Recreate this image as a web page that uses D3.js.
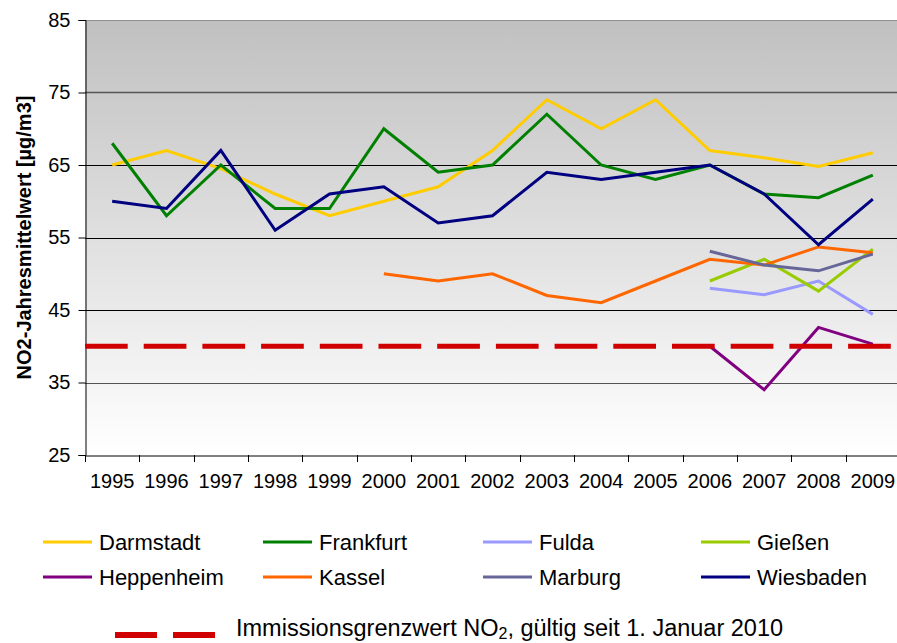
<!DOCTYPE html>
<html>
<head>
<meta charset="utf-8">
<script src="https://cdn.jsdelivr.net/npm/d3@7"></script>
<style>
  body { margin: 0; background: #fff; }
  svg text { font-family: Arial, "Liberation Sans", sans-serif; fill: #000; }
</style>
</head>
<body>
<svg id="chart" width="897" height="643"></svg>
<script>
// data
const years = ["1995", "1996", "1997", "1998", "1999", "2000", "2001", "2002",
               "2003", "2004", "2005", "2006", "2007", "2008", "2009"];
const darmstadt  = [65, 67, 64.5, 61, 58, 60, 62, 67, 74, 70, 74, 67, 66, 64.8, 66.7];
const frankfurt  = [68, 58, 65, 59, 59, 70, 64, 65, 72, 65, 63, 65, 61, 60.5, 63.6];
const fulda      = [null, null, null, null, null, null, null, null, null, null, null, 48, 47.1, 49, 44.4];
const giessen    = [null, null, null, null, null, null, null, null, null, null, null, 49, 52, 47.6, 53.4];
const heppenheim = [null, null, null, null, null, null, null, null, null, null, null, 40, 34, 42.6, 40.3];
const kassel     = [null, null, null, null, null, 50, 49, 50, 47, 46, 49, 52, 51.2, 53.7, 52.9];
const marburg    = [null, null, null, null, null, null, null, null, null, null, null, 53.1, 51.2, 50.4, 52.7];
const wiesbaden  = [60, 59, 67, 56, 61, 62, 57, 58, 64, 63, 64, 65, 61, 54, 60.3];
const yTicks = [25, 35, 45, 55, 65, 75, 85];
const limitValue = 40;

const series = [
  { name: "Darmstadt",  values: darmstadt,  color: "#FFCC00" },
  { name: "Frankfurt",  values: frankfurt,  color: "#008000" },
  { name: "Fulda",      values: fulda,      color: "#9999FF" },
  { name: "Gießen",     values: giessen,    color: "#99CC00" },
  { name: "Heppenheim", values: heppenheim, color: "#800080" },
  { name: "Kassel",     values: kassel,     color: "#FF6600" },
  { name: "Marburg",    values: marburg,    color: "#666699" },
  { name: "Wiesbaden",  values: wiesbaden,  color: "#000080" }
];

const svg = d3.select("#chart");
const mLeft = 85, mRight = 900, mTop = 20, mBottom = 455;

const x = d3.scaleBand().domain(years).range([mLeft, mRight]).padding(0);
const y = d3.scaleLinear().domain([25, 85]).range([mBottom, mTop]);

// plot background gradient
const grad = svg.append("defs").append("linearGradient")
    .attr("id", "bg").attr("x1", 0).attr("y1", 0).attr("x2", 0).attr("y2", 1);
grad.append("stop").attr("offset", "0%").attr("stop-color", "#c0c0c0");
grad.append("stop").attr("offset", "100%").attr("stop-color", "#ffffff");

svg.append("rect")
    .attr("x", mLeft).attr("y", mTop)
    .attr("width", mRight - mLeft).attr("height", mBottom - mTop)
    .attr("fill", "url(#bg)");

// gridlines
svg.append("g").selectAll("line")
    .data(yTicks.filter(d => d > 25))
    .join("line")
    .attr("x1", mLeft).attr("x2", mRight)
    .attr("y1", d => Math.round(y(d)) + 0.5).attr("y2", d => Math.round(y(d)) + 0.5)
    .attr("stroke", d => d == 85 ? "#909090" : (d == 75 || d == 35) ? "#555" : "#000")
    .attr("stroke-width", d => d == 75 ? 1.5 : 1);

// axes
const yAxis = d3.axisLeft(y).tickValues(yTicks).tickSize(7).tickPadding(8);
const gy = svg.append("g").attr("transform", "translate(" + (mLeft + 0.5) + ",0)").call(yAxis);
gy.select(".domain").attr("stroke", "#000");
gy.selectAll(".tick line").attr("stroke", "#000");
gy.selectAll("text").style("font-size", "20px").attr("fill", "#000");

const xAxis = d3.axisBottom(x).tickSize(0).tickPadding(18);
const gx = svg.append("g").attr("transform", "translate(0," + (mBottom + 0.5) + ")").call(xAxis);
gx.select(".domain").attr("stroke", "#000");
gx.selectAll("text").style("font-size", "20px").attr("fill", "#000");

// ticks between categories
svg.append("g").selectAll("line")
    .data(years)
    .join("line")
    .attr("x1", d => Math.round(x(d)) + 0.5).attr("x2", d => Math.round(x(d)) + 0.5)
    .attr("y1", mBottom).attr("y2", mBottom + 7)
    .attr("stroke", "#000");

// y title
svg.append("text")
    .attr("transform", "translate(31," + ((mTop + mBottom) / 2) + ") rotate(-90)")
    .attr("text-anchor", "middle")
    .style("font-size", "20px")
    .style("font-weight", "bold")
    .text("NO2-Jahresmittelwert [µg/m3]");

// lines
const line = d3.line()
    .defined(d => d != null)
    .x((d, i) => x(years[i]) + x.bandwidth() / 2)
    .y(d => y(d));

svg.append("g").selectAll("path")
    .data(series)
    .join("path")
    .attr("d", d => line(d.values))
    .attr("fill", "none")
    .attr("stroke", d => d.color)
    .attr("stroke-width", 3)
    .attr("stroke-linejoin", "miter");

// limit value
svg.append("line")
    .attr("x1", mLeft).attr("x2", mRight)
    .attr("y1", y(limitValue)).attr("y2", y(limitValue))
    .attr("stroke", "#D00000")
    .attr("stroke-width", 5)
    .attr("stroke-dasharray", "42.7,16");

// legend
const legend = svg.append("g");
const colX = [43, 263, 483, 701];
const rowY = [542, 577];
series.forEach(function (s, i) {
    const cx = colX[i % 4], cy = rowY[Math.floor(i / 4)];
    legend.append("line")
        .attr("x1", cx).attr("x2", cx + 49)
        .attr("y1", cy).attr("y2", cy)
        .attr("stroke", s.color).attr("stroke-width", 3);
    legend.append("text")
        .attr("x", cx + 56).attr("y", cy + 8)
        .style("font-size", "22px")
        .text(s.name);
});

// limit legend
legend.append("line")
    .attr("x1", 115).attr("x2", 216)
    .attr("y1", 635).attr("y2", 635)
    .attr("stroke", "#D00000").attr("stroke-width", 6)
    .attr("stroke-dasharray", "42,16");
const lt = legend.append("text").attr("x", 236).attr("y", 636).style("font-size", "23.5px");
lt.append("tspan").text("Immissionsgrenzwert NO");
lt.append("tspan").attr("dy", 3).style("font-size", "16px").text("2");
lt.append("tspan").attr("dy", -3).text(", gültig seit 1. Januar 2010");
</script>
</body>
</html>
